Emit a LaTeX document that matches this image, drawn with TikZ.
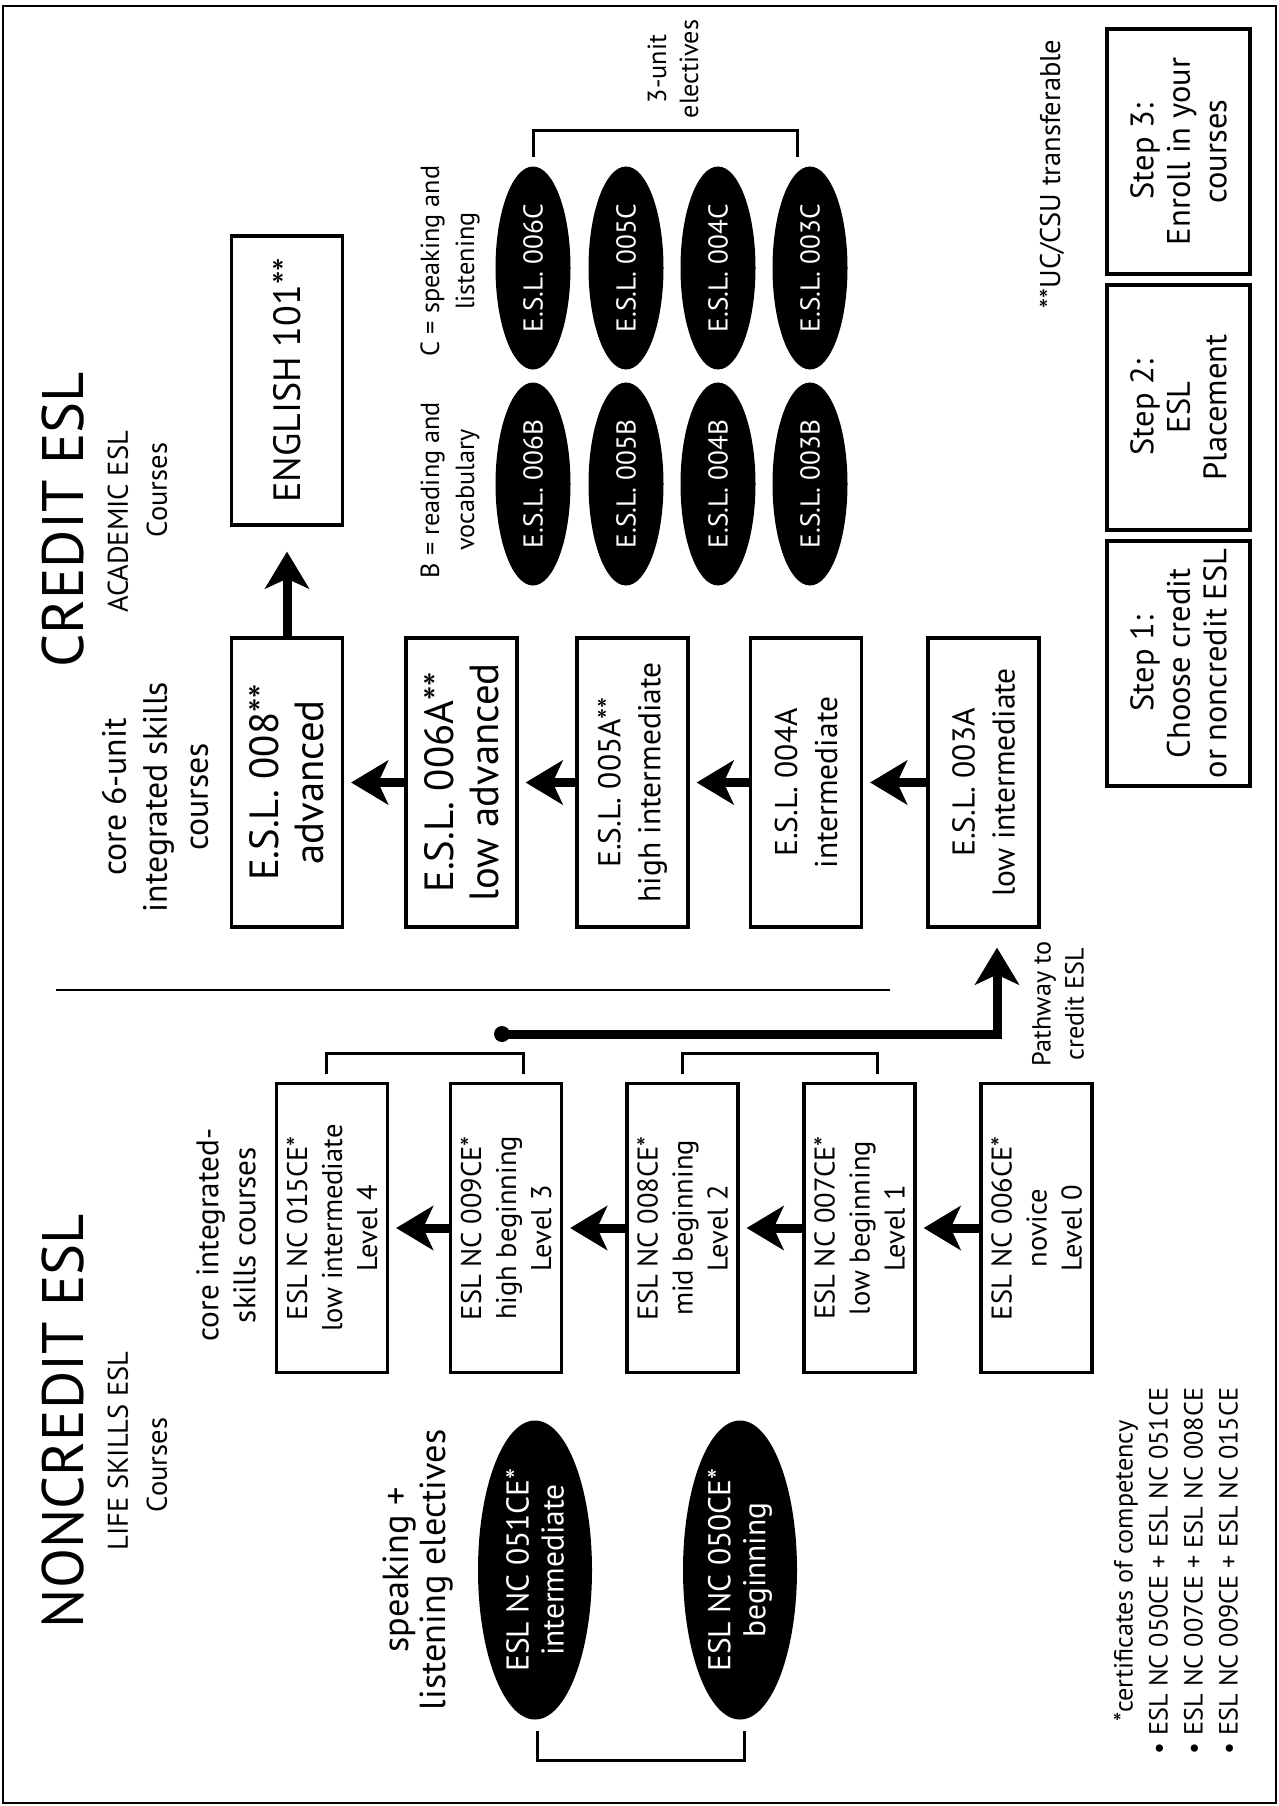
\documentclass[tikz,border=0pt]{standalone}
\usepackage{fontspec}
\setmainfont{PT Sans}
\usetikzlibrary{shapes.geometric,arrows.meta,calc}

\begin{document}
\begin{tikzpicture}[x=0.4pt, y=-0.4pt,
  arr/.style={-{Stealth[length=14.8pt,width=17.6pt,inset=4pt]}, line width=3.6pt},
  brk/.style={line width=1.2pt},
  lbl/.style={rotate=90, align=center, inner sep=0pt},
  box/.style={draw, line width=1.3pt, rotate=90, align=center, inner sep=0pt,
    minimum width=115.6pt, minimum height=44.4pt, font=\fontsize{12.6pt}{16pt}\selectfont},
  bigbox/.style={box, font=\fontsize{16.3pt}{18pt}\selectfont},
  ncbox/.style={box, font=\fontsize{11.4pt}{14pt}\selectfont},
  stepbox/.style={draw, line width=1.6pt, rotate=90, align=center, inner sep=0pt,
    minimum width=98pt, minimum height=57.2pt, font=\fontsize{13pt}{14.6pt}\selectfont},
  elec/.style={ellipse, fill=black, text=white, rotate=90, align=center, inner sep=0pt,
    minimum width=81.2pt, minimum height=30pt, font=\fontsize{10.9pt}{13pt}\selectfont},
  ncelec/.style={elec, minimum width=119.6pt, minimum height=45.6pt, font=\fontsize{12.6pt}{14pt}\selectfont}]

\useasboundingbox (0,0) rectangle (1279,1806);
\draw[line width=0.8pt] (3,6) rectangle (1276,1803);

% titles
\node[lbl, font=\fontsize{23.4pt}{28pt}\selectfont] (tcr) at (63,520) {CREDIT ESL};
\node[lbl, font=\fontsize{11.4pt}{14pt}\selectfont] (tcr1) at (118,522) {ACADEMIC ESL};
\node[lbl, font=\fontsize{11.4pt}{14pt}\selectfont] (tcr2) at (157,490) {Courses};
\node[lbl, font=\fontsize{23.4pt}{28pt}\selectfont] (tnc) at (63,1421) {NONCREDIT ESL};
\node[lbl, font=\fontsize{11.4pt}{14pt}\selectfont] (tnc1) at (118,1451) {LIFE SKILLS ESL};
\node[lbl, font=\fontsize{11.4pt}{14pt}\selectfont] (tnc2) at (157,1465) {Courses};

% credit core courses
\node[lbl, font=\fontsize{13.5pt}{16.4pt}\selectfont] (lcore) at (155,797) {core 6-unit\\integrated skills\\courses};
\node[box, font=\fontsize{15.2pt}{18pt}\selectfont] (eng) at (287,380.5) {ENGLISH 101**};
\node[bigbox] (c008) at (287,782.5) {E.S.L. 008**\\advanced};
\node[bigbox] (c006) at (461.5,782.5) {E.S.L. 006A**\\low advanced};
\node[box] (c005) at (632.5,782.5) {E.S.L. 005A**\\high intermediate};
\node[box] (c004) at (806,782.5) {E.S.L. 004A\\intermediate};
\node[box] (c003) at (983.5,782.5) {E.S.L. 003A\\low intermediate};

\draw[arr, shorten >=10pt] (c008) -- (eng);
\foreach \a/\b in {c006/c008, c005/c006, c004/c005, c003/c004}
  \draw[arr, shorten >=2.8pt] (\a) -- (\b);

% 3-unit electives
\foreach \n/\x in {6/533, 5/626, 4/718, 3/810} {
  \node[elec] (ec\n) at (\x,268) {E.S.L. 00\n{}C};
  \node[elec] (eb\n) at (\x,484) {E.S.L. 00\n{}B};
}
\node[lbl, font=\fontsize{10.5pt}{14pt}\selectfont] (lc) at (450,261) {C = speaking and\\listening};
\node[lbl, font=\fontsize{10.5pt}{14pt}\selectfont] (lb) at (450,490) {B = reading and\\vocabulary};
\node[lbl, font=\fontsize{10.5pt}{12.8pt}\selectfont] (lunit) at (673,69) {3-unit\\electives};
\draw[brk] (ec6.east) ++(0,-9) -- ++(0,-27) -| ($(ec3.east)+(-13,-9)$);

\draw[line width=0.8pt] (56,990) -- (890,990);

% noncredit core courses
\node[lbl, font=\fontsize{12.5pt}{14.8pt}\selectfont] (lncore) at (226,1235) {core integrated-\\skills courses};
\node[ncbox] (n015) at (332,1228) {ESL NC 015CE*\\low intermediate\\Level 4};
\node[ncbox] (n009) at (506,1228) {ESL NC 009CE*\\high beginning\\Level 3};
\node[ncbox] (n008) at (682.5,1228) {ESL NC 008CE*\\mid beginning\\Level 2};
\node[ncbox] (n007) at (859.5,1228) {ESL NC 007CE*\\low beginning\\Level 1};
\node[ncbox] (n006) at (1036.5,1228) {ESL NC 006CE*\\novice\\Level 0};
\foreach \a/\b in {n009/n015, n008/n009, n007/n008, n006/n007}
  \draw[arr, shorten >=2.8pt] (\a) -- (\b);
\draw[brk] (n015.east) ++(-6,-8) -- ++(0,-20) -| ($(n009.east)+(17,-8)$);
\draw[brk] (n008.east) ++(0,-8) -- ++(0,-20) -| ($(n007.east)+(18,-8)$);

% pathway
\node[circle, fill, inner sep=0pt, minimum size=6.4pt] (dot) at (502,1034) {};
\draw[arr, shorten >=7.6pt] (dot.center) -| ($(c003.west)+(13.5,0)$);
\node[lbl, font=\fontsize{10.5pt}{13.2pt}\selectfont] (lpath) at (1058,1004) {Pathway to\\credit ESL};

% noncredit electives
\node[lbl, font=\fontsize{14.5pt}{14.5pt}\selectfont] (lsl) at (418,1570) {speaking +\\listening electives};
\node[ncelec] (ne51) at (535,1570) {ESL NC 051CE*\\intermediate};
\node[ncelec] (ne50) at (740,1570) {ESL NC 050CE*\\beginning};
\draw[brk] (ne51.west) ++(2,11) -- ++(0,29) -| ($(ne50.west)+(4,11)$);

% steps
\node[stepbox] (s3) at (1178.5,151.5) {Step 3:\\Enroll in your\\courses};
\node[stepbox] (s2) at (1178.5,407.5) {Step 2:\\ESL\\Placement};
\node[stepbox] (s1) at (1178.5,663.5) {Step 1:\\Choose credit\\or noncredit ESL};
\node[lbl, font=\fontsize{11.4pt}{14pt}\selectfont] (ltr) at (1052,174) {**UC/CSU transferable};
\node[lbl, font=\fontsize{10.5pt}{14pt}\selectfont] (lcert) at (1176,1571) {*certificates of competency\\
  • ESL NC 050CE + ESL NC 051CE\\• ESL NC 007CE + ESL NC 008CE\\• ESL NC 009CE + ESL NC 015CE};

\end{tikzpicture}
\end{document}
